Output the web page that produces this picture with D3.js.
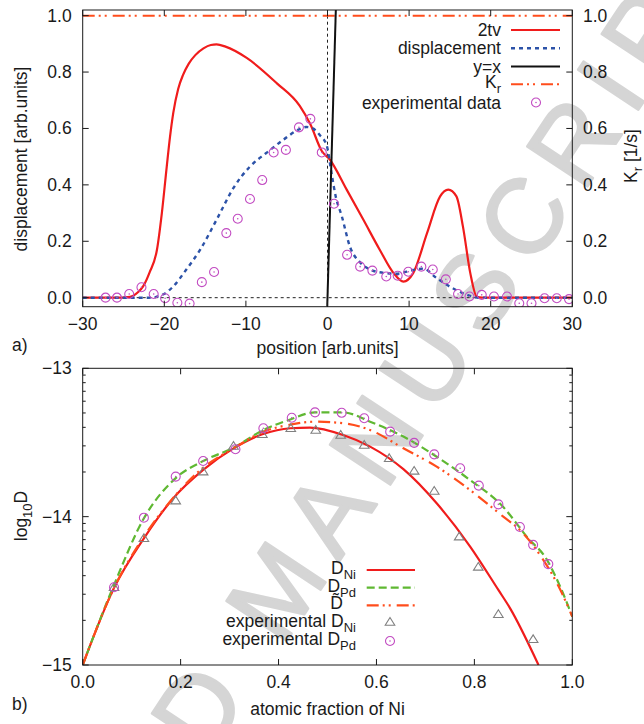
<!DOCTYPE html>
<html>
<head>
<meta charset="utf-8">
<script src="https://cdn.jsdelivr.net/npm/d3@7"></script>
<style>
body { margin: 0; background: #fff; }
text { font-family: "Liberation Sans", Arial, sans-serif; fill: #1a1a1a; }
</style>
</head>
<body>
<svg width="644" height="724"></svg>
<script>
// ---- panel a) : position vs displacement ----
const tvX = [-30, -26, -24.2, -23.2, -22.6, -21.8, -20.9, -20.3, -19.7, -19.3, -18.9, -18.3, -17.7, -17.0, -16.2, -15.2, -14.3, -13.6, -12.5,
    -9.9, -6.2, -3.4, -2.1, -0.7, 0.3, 2.35, 4.4, 6.4, 8.1, 9.3, 10.5, 12.2, 13.8, 14.8, 15.8, 16.6, 17.5, 18.3, 19, 30];
const tvY = [0, 0, 0.003, 0.02, 0.04, 0.09, 0.17, 0.3, 0.465, 0.57, 0.655, 0.74, 0.79, 0.83, 0.86, 0.884, 0.896, 0.898, 0.89,
    0.85, 0.76, 0.68, 0.615, 0.52, 0.489, 0.383, 0.276, 0.17, 0.087, 0.057, 0.087, 0.229, 0.359, 0.383, 0.359, 0.252, 0.087, 0.003, 0, 0];

const dispX = [-30, -22, -21, -20.1, -18.9, -17.3, -15.6, -13.6, -11.5, -9.5, -7.5, -5.4, -3.4, -2.6, -1.8, -0.9, -0.1,
    0.5, 1.0, 1.74, 2.76, 4.0, 5.2, 6.4, 8.5, 10.5, 11.7, 13.4, 15.0, 17.1, 18.5, 30];
const dispY = [0, 0, 0.003, 0.012, 0.04, 0.1, 0.17, 0.276, 0.39, 0.465, 0.513, 0.56, 0.598, 0.605, 0.6, 0.575, 0.54,
    0.44, 0.36, 0.29, 0.18, 0.125, 0.1, 0.09, 0.085, 0.098, 0.103, 0.069, 0.039, 0.01, 0, 0];

const expPos = [-27.2, -25.8, -24.3, -22.8, -21.3, -19.9, -18.4, -16.9, -15.4, -13.9, -12.4, -11.0, -9.5, -8.0, -6.6, -5.1,
    -3.5, -2.1, -0.7, 0.8, 2.4, 4.0, 5.5, 7.2, 8.6, 9.9, 11.5, 12.9, 14.5, 16.0, 17.4, 18.9, 20.4, 22.0, 23.5, 25.0, 26.6, 28.1, 29.6];
const expDisp = [0, 0, 0.013, 0.037, 0.013, -0.002, -0.018, -0.021, 0.055, 0.091, 0.229, 0.28, 0.35, 0.417, 0.515, 0.524,
    0.604, 0.634, 0.515, 0.333, 0.152, 0.11, 0.096, 0.075, 0.078, 0.092, 0.11, 0.1, 0.065, 0.013, 0.004, 0.01, 0.004, 0.004, -0.02, -0.02, -0.002, -0.002, -0.005];

const krLevel = 1.0;
const posTicks = [-30, -20, -10, 0, 10, 20, 30];
const dispTicks = [0, 0.2, 0.4, 0.6, 0.8, 1.0];

// ---- panel b) : log10 D vs atomic fraction of Ni ----
const dNiX = [0, 0.064, 0.125, 0.185, 0.246, 0.308, 0.367, 0.424, 0.464, 0.532, 0.587, 0.655, 0.723, 0.791, 0.849, 0.873, 0.931];
const dNiY = [-15, -14.48, -14.146, -13.876, -13.685, -13.54, -13.445, -13.404, -13.40, -13.45, -13.528, -13.68, -13.91, -14.2, -14.494, -14.618, -15];

const dPdX = [0, 0.064, 0.125, 0.19, 0.246, 0.308, 0.367, 0.424, 0.4745, 0.532, 0.587, 0.655, 0.723, 0.791, 0.859, 0.907, 0.948, 0.975, 1.0];
const dPdY = [-15, -14.46, -14.011, -13.74, -13.625, -13.535, -13.42, -13.345, -13.297, -13.297, -13.36, -13.46, -13.596, -13.753, -13.935, -14.135, -14.29, -14.47, -14.674];

const dTilX = [0, 0.064, 0.125, 0.19, 0.246, 0.308, 0.367, 0.424, 0.4745, 0.532, 0.587, 0.655, 0.723, 0.791, 0.859, 0.893, 0.927, 0.975, 1.0];
const dTilY = [-15, -14.48, -14.135, -13.854, -13.67, -13.54, -13.43, -13.38, -13.36, -13.37, -13.416, -13.539, -13.663, -13.82, -14.0, -14.09, -14.225, -14.49, -14.674];

const expNiX = [0.064, 0.125, 0.19, 0.246, 0.308, 0.367, 0.425, 0.476, 0.527, 0.575, 0.626, 0.677, 0.718, 0.769, 0.808, 0.849, 0.92];
const expNiY = [-14.476, -14.146, -13.892, -13.697, -13.524, -13.445, -13.404, -13.416, -13.45, -13.517, -13.607, -13.692, -13.827, -14.135, -14.339, -14.658, -14.827];

const expPdX = [0.064, 0.125, 0.19, 0.246, 0.312, 0.369, 0.427, 0.4745, 0.529, 0.575, 0.628, 0.677, 0.718, 0.771, 0.809, 0.849, 0.893, 0.92, 0.951];
const expPdY = [-14.476, -14.007, -13.73, -13.625, -13.546, -13.404, -13.333, -13.297, -13.30, -13.337, -13.427, -13.503, -13.58, -13.674, -13.791, -13.917, -14.07, -14.19, -14.32];

const fracTicks = [0, 0.2, 0.4, 0.6, 0.8, 1.0];
const logTicks = [-15, -14, -13];

const RED = '#f01c1c', BLUE = '#2c52a8', ORANGE = '#ff4d1c', GREEN = '#5fb832', MAGENTA = '#c24cc2', GREY = '#808080';
const DASHDOT = '12,4,2,4,2,6';

const svg = d3.select('svg');

watermark();

const xa = d3.scaleLinear().domain([-30, 30]).range([82.7, 572.3]);
const ya = d3.scaleLinear().domain([-0.032, 1.02]).range([306.7, 10]);
const xb = d3.scaleLinear().domain([0, 1]).range([82.7, 572.3]);
const yb = d3.scaleLinear().domain([-15, -13]).range([665, 368.3]);

panelA();
panelB();

function zip(xs, ys) {
    return xs.map((x, i) => [x, ys[i]]);
}

// grey diagonal stamp behind the plots, anchored at the foot of the "M"
function watermark() {
    const g = svg.append('g').attr('transform', 'translate(282,648) rotate(-56.5)')
        .style('font-size', '105px').style('letter-spacing', '15px');
    const style = t => t.style('fill', '#d5d5d5').style('stroke', '#d5d5d5')
        .style('stroke-width', 2.5).style('stroke-linejoin', 'round');
    style(g.append('text').attr('x', 0).text('MANUSCRIPT'));
    style(g.append('text').attr('x', -44).attr('text-anchor', 'end').text('ACCEPTED'));
}

// frame with inward ticks on all four sides
function frame(g, x, y, xt, yt, fmtX, fmtY, minorY) {
    const [x0, x1] = x.range(), [y0, y1] = y.range();
    g.append('rect').attr('x', x0).attr('y', y1).attr('width', x1 - x0).attr('height', y0 - y1)
        .attr('fill', 'none').attr('stroke', '#1a1a1a').attr('stroke-width', 1);
    const tk = g.append('g').attr('stroke', '#1a1a1a').attr('stroke-width', 1);
    xt.forEach(v => {
        tk.append('line').attr('x1', x(v)).attr('x2', x(v)).attr('y1', y0).attr('y2', y0 - 6);
        tk.append('line').attr('x1', x(v)).attr('x2', x(v)).attr('y1', y1).attr('y2', y1 + 6);
    });
    yt.forEach(v => {
        tk.append('line').attr('x1', x0).attr('x2', x0 + 6).attr('y1', y(v)).attr('y2', y(v));
        tk.append('line').attr('x1', x1).attr('x2', x1 - 6).attr('y1', y(v)).attr('y2', y(v));
    });
    (minorY || []).forEach(v => {
        tk.append('line').attr('x1', x0).attr('x2', x0 + 3).attr('y1', y(v)).attr('y2', y(v));
        tk.append('line').attr('x1', x1).attr('x2', x1 - 3).attr('y1', y(v)).attr('y2', y(v));
    });
    g.append('g').selectAll('text').data(xt).enter().append('text')
        .attr('x', d => x(d)).attr('y', y0 + 23).attr('text-anchor', 'middle')
        .attr('font-size', 17.5).text(fmtX);
    g.append('g').selectAll('text').data(yt).enter().append('text')
        .attr('x', x0 - 11).attr('y', d => y(d) + 6).attr('text-anchor', 'end')
        .attr('font-size', 17.5).text(fmtY);
}

function circles(g, pts, cx, cy) {
    const p = g.append('g').selectAll('g').data(pts).enter().append('g')
        .attr('transform', d => `translate(${cx(d)},${cy(d)})`);
    p.append('circle').attr('r', 4.5).attr('fill', 'none').attr('stroke', MAGENTA).attr('stroke-width', 1.1);
    p.append('circle').attr('r', 0.8).attr('fill', MAGENTA);
}

function triangles(g, pts, cx, cy) {
    g.append('g').selectAll('path').data(pts).enter().append('path')
        .attr('d', 'M0,-4.5L4.8,3.2L-4.8,3.2Z')
        .attr('transform', d => `translate(${cx(d)},${cy(d)})`)
        .attr('fill', 'none').attr('stroke', GREY).attr('stroke-width', 1.1);
}

function panelA() {
    const g = svg.append('g');
    g.append('clipPath').attr('id', 'clipA').append('rect')
        .attr('x', 82.7).attr('y', 10).attr('width', 572.3 - 82.7).attr('height', 306.7 - 10);
    const plot = g.append('g').attr('clip-path', 'url(#clipA)');

    // zero lines
    plot.append('line').attr('x1', xa(-30)).attr('x2', xa(30)).attr('y1', ya(0)).attr('y2', ya(0))
        .attr('stroke', '#222').attr('stroke-dasharray', '3,3');
    plot.append('line').attr('x1', xa(0)).attr('x2', xa(0)).attr('y1', ya(-0.032)).attr('y2', ya(1.02))
        .attr('stroke', '#222').attr('stroke-dasharray', '3,3');

    const line = d3.line().x(d => xa(d[0])).y(d => ya(d[1])).curve(d3.curveMonotoneX);
    const straight = d3.line().x(d => xa(d[0])).y(d => ya(d[1]));

    plot.append('path').datum([[-30, krLevel], [30, krLevel]]).attr('d', straight)
        .attr('fill', 'none').attr('stroke', ORANGE).attr('stroke-width', 2).attr('stroke-dasharray', DASHDOT);
    plot.append('path').datum(zip(tvX, tvY)).attr('d', line)
        .attr('fill', 'none').attr('stroke', RED).attr('stroke-width', 2.2);
    plot.append('path').datum(zip(dispX, dispY)).attr('d', line)
        .attr('fill', 'none').attr('stroke', BLUE).attr('stroke-width', 2.4).attr('stroke-dasharray', '4,4');
    plot.append('path').datum([[-0.032, -0.032], [1.02, 1.02]]).attr('d', straight)
        .attr('fill', 'none').attr('stroke', '#111').attr('stroke-width', 2);
    circles(plot, zip(expPos, expDisp), d => xa(d[0]), d => ya(d[1]));

    frame(g, xa, ya, posTicks, dispTicks, d3.format('d'), d3.format('.1f'));
    // right axis labels
    g.append('g').selectAll('text').data(dispTicks).enter().append('text')
        .attr('x', 583).attr('y', d => ya(d) + 6).attr('font-size', 17.5).text(d3.format('.1f'));

    // legend
    const rows = [
        {label: '2tv', y: 30},
        {label: 'displacement', y: 48.3},
        {label: 'y=x', y: 66.5},
        {label: 'K', sub: 'r', y: 84.3},
        {label: 'experimental data', y: 102.5}
    ];
    const lg = g.append('g');
    rows.forEach(r => {
        const t = lg.append('text').attr('x', 501).attr('y', r.y + (r.sub ? 3.5 : 6))
            .attr('text-anchor', 'end').attr('font-size', 17.5);
        t.append('tspan').text(r.label);
        if (r.sub) t.append('tspan').attr('dy', 5).attr('font-size', 13).text(r.sub);
    });
    const sample = (y, color, w, dash) => lg.append('line').attr('x1', 511).attr('x2', 560).attr('y1', y).attr('y2', y)
        .attr('stroke', color).attr('stroke-width', w).attr('stroke-dasharray', dash);
    sample(30, RED, 2.2, null);
    sample(48.3, BLUE, 2.4, '4,4');
    sample(66.5, '#111', 2, null);
    sample(84.3, ORANGE, 2, DASHDOT);
    circles(lg, [[536, 102.5]], d => d[0], d => d[1]);

    // axis titles
    g.append('text').attr('x', 327.5).attr('y', 354).attr('text-anchor', 'middle').attr('font-size', 17.5)
        .text('position [arb.units]');
    g.append('text').attr('x', 12).attr('y', 351).attr('font-size', 17.5).text('a)');
    g.append('text').attr('transform', 'translate(27,159) rotate(-90)').attr('text-anchor', 'middle')
        .attr('font-size', 17.5).text('displacement [arb.units]');
    const kr = g.append('text').attr('transform', 'translate(637,156) rotate(-90)').attr('text-anchor', 'middle')
        .attr('font-size', 17.5);
    kr.append('tspan').text('K');
    kr.append('tspan').attr('dy', 5).attr('font-size', 13).text('r');
    kr.append('tspan').attr('dy', -5).text(' [1/s]');
}

function panelB() {
    const g = svg.append('g');
    g.append('clipPath').attr('id', 'clipB').append('rect')
        .attr('x', 82.7).attr('y', 368.3).attr('width', 572.3 - 82.7).attr('height', 665 - 368.3);
    const plot = g.append('g').attr('clip-path', 'url(#clipB)');

    const line = d3.line().x(d => xb(d[0])).y(d => yb(d[1])).curve(d3.curveMonotoneX);
    plot.append('path').datum(zip(dNiX, dNiY)).attr('d', line)
        .attr('fill', 'none').attr('stroke', RED).attr('stroke-width', 2.2);
    plot.append('path').datum(zip(dPdX, dPdY)).attr('d', line)
        .attr('fill', 'none').attr('stroke', GREEN).attr('stroke-width', 2.2).attr('stroke-dasharray', '8,4');
    plot.append('path').datum(zip(dTilX, dTilY)).attr('d', line)
        .attr('fill', 'none').attr('stroke', ORANGE).attr('stroke-width', 2.2).attr('stroke-dasharray', DASHDOT);
    triangles(plot, zip(expNiX, expNiY), d => xb(d[0]), d => yb(d[1]));
    circles(plot, zip(expPdX, expPdY), d => xb(d[0]), d => yb(d[1]));

    // minor ticks at log10(k) inside each decade
    const minor = [];
    [-15, -14].forEach(dec => d3.range(2, 10).forEach(k => minor.push(dec + Math.log10(k))));
    frame(g, xb, yb, fracTicks, logTicks, d3.format('.1f'), d3.format('d'), minor);

    // legend
    const lg = g.append('g');
    const rows = [
        {label: 'D', sub: 'Ni', y: 570, x: 356},
        {label: 'D', sub: 'Pd', y: 587.7, x: 356},
        {label: 'D\u0303', y: 605.4, x: 343},
        {label: 'experimental D', sub: 'Ni', y: 623, x: 356},
        {label: 'experimental D', sub: 'Pd', y: 641, x: 356}
    ];
    rows.forEach(r => {
        const t = lg.append('text').attr('x', r.x).attr('y', r.y + 4)
            .attr('text-anchor', 'end').attr('font-size', 17.5);
        t.append('tspan').text(r.label);
        if (r.sub) t.append('tspan').attr('dy', 5).attr('font-size', 13).text(r.sub);
    });
    const sample = (y, color, dash) => lg.append('line').attr('x1', 366.7).attr('x2', 415).attr('y1', y).attr('y2', y)
        .attr('stroke', color).attr('stroke-width', 2.2).attr('stroke-dasharray', dash);
    sample(570, RED, null);
    sample(587.7, GREEN, '8,4');
    sample(605.4, ORANGE, DASHDOT);
    triangles(lg, [[390, 622]], d => d[0], d => d[1]);
    circles(lg, [[390, 641]], d => d[0], d => d[1]);

    g.append('text').attr('x', 327.5).attr('y', 715).attr('text-anchor', 'middle').attr('font-size', 17.5)
        .text('atomic fraction of Ni');
    g.append('text').attr('x', 12).attr('y', 710).attr('font-size', 17.5).text('b)');
    const yl = g.append('text').attr('transform', 'translate(27,516) rotate(-90)').attr('text-anchor', 'middle')
        .attr('font-size', 17.5);
    yl.append('tspan').text('log');
    yl.append('tspan').attr('dy', 5).attr('font-size', 13).text('10');
    yl.append('tspan').attr('dy', -5).text('D');
}
</script>
</body>
</html>
